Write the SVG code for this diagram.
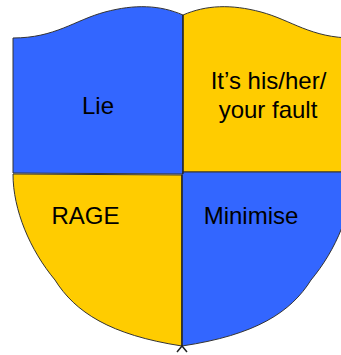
<svg xmlns="http://www.w3.org/2000/svg" width="341" height="355" viewBox="0 0 341 355">
  <style>
    .blue { fill: #3366FF; }
    .yellow { fill: #FFCC00; }
    .edge { stroke: #333333; stroke-width: 1; stroke-linejoin: round; }
    .lbl { font-family: "Liberation Sans", Arial, sans-serif; font-size: 24px; fill: #000000; text-anchor: middle; }
  </style>
  <rect width="341" height="355" fill="#FFFFFF"/>
  <g id="quadrant-lie">
    <path class="blue edge" d="M13,38 C55,38 75,20 105,12 C135,4 160,5 183,15 L183,174 L13,173 Z"/>
    <text class="lbl" x="98" y="114">Lie</text>
  </g>
  <g id="quadrant-fault">
    <path class="yellow edge" d="M183,15 C206,5 231,4 261,12 C291,20 311,38 353,38 L353,172 L183,172 Z"/>
    <text class="lbl" x="268.5" y="89">It’s his/her/</text>
    <text class="lbl" x="268" y="118">your fault</text>
  </g>
  <g id="quadrant-rage">
    <path class="yellow edge" d="M13,174 L182,175 L182,346 C110,335 75,312 55,280 C30,250 13,210 13,174 Z"/>
    <text class="lbl" x="85.5" y="224">RAGE</text>
  </g>
  <g id="quadrant-minimise">
    <path class="blue edge" d="M183,172 L353,172 C353,210 336,250 311,280 C291,312 256,335 182,346 L182,175 Z"/>
    <text class="lbl" x="251" y="224">Minimise</text>
  </g>
  <g id="connectors">
    <path d="M183,15 L183,160 M183,160 L183,174 M182,175 L182,346" fill="none" stroke="#222222" stroke-width="1.2"/>
    <path d="M177,352 L182,346 L187,352" fill="none" stroke="#222222" stroke-width="1.5"/>
  </g>
</svg>
